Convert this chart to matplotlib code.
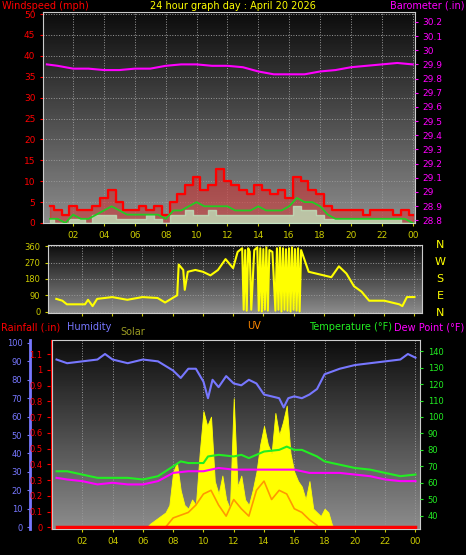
import matplotlib
matplotlib.use("Agg")
import matplotlib.pyplot as plt
import numpy as np

# ---- top panel: wind and barometer ----
wind_hours = [0.5, 1, 1.5, 2, 2.5, 3, 3.5, 4, 4.5, 5, 5.5, 6, 6.5, 7, 7.5, 8, 8.5, 9, 9.5, 10,
              10.5, 11, 11.5, 12, 12.5, 13, 13.5, 14, 14.5, 15, 15.5, 16, 16.5, 17, 17.5, 18,
              18.5, 19, 19.5, 20, 20.5, 21, 21.5, 22, 22.5, 23, 23.5, 24]
gust = [4, 3, 2, 4, 3, 3, 4, 6, 8, 5, 3, 3, 4, 3, 4, 2, 5, 7, 9, 11,
        8, 9, 13, 10, 9, 8, 7, 9, 8, 7, 8, 6, 11, 10, 8, 7,
        4, 3, 3, 3, 3, 2, 3, 3, 3, 2, 3, 2]
wind_avg = [1, 1, 0, 2, 1, 1, 2, 3, 4, 3, 2, 2, 2, 2, 2, 1, 3, 3, 4, 5,
            4, 4, 4, 4, 3, 3, 3, 4, 3, 3, 3, 4, 6, 5, 5, 4,
            2, 1, 1, 1, 1, 1, 1, 1, 1, 1, 1, 0]
wind_speed = [1, 0, 0, 1, 1, 0, 2, 2, 2, 1, 1, 1, 1, 2, 1, 0, 2, 2, 3, 2,
              2, 3, 2, 2, 2, 2, 2, 2, 2, 2, 2, 2, 4, 3, 3, 2,
              1, 1, 1, 1, 1, 1, 1, 1, 1, 1, 0, 0]
baro_hours = [0.3, 1, 2, 3, 4, 5, 6, 7, 8, 9, 10, 11, 12, 13, 14, 15, 16, 17, 18, 19, 20, 21, 22, 23, 24]
baro = [29.90, 29.89, 29.87, 29.87, 29.86, 29.86, 29.87, 29.87, 29.89, 29.90, 29.90, 29.89, 29.89,
        29.88, 29.85, 29.83, 29.83, 29.83, 29.85, 29.86, 29.88, 29.89, 29.90, 29.91, 29.90]

# ---- middle panel: wind direction ----
dir_hours = [0.3, 0.7, 1, 2, 2.2, 2.4, 2.7, 3, 4, 5, 6, 7, 7.5, 8, 8.3, 8.4, 8.7, 8.8, 9, 9.5,
             10, 10.5, 11, 11.5, 12, 12.3, 12.6, 12.7, 12.8, 12.9, 13.0, 13.1, 13.2, 13.4, 13.6,
             13.7, 13.8, 13.9, 14.0, 14.1, 14.2, 14.3, 14.4, 14.6, 14.8, 14.9, 15.0, 15.1, 15.2,
             15.3, 15.4, 15.5, 15.6, 15.7, 15.8, 15.9, 16.0, 16.1, 16.2, 16.3, 16.4, 16.5,
             17, 17.5, 18, 18.5, 19, 19.5, 20, 20.5, 21, 22, 22.5, 23, 23.2, 23.5, 24]
wind_dir = [70, 60, 40, 40, 40, 65, 30, 70, 80, 65, 80, 75, 50, 75, 90, 260, 230, 120, 220, 230,
            220, 200, 230, 290, 240, 330, 350, 10, 340, 5, 350, 330, 10, 340, 355,
            5, 350, 0, 345, 10, 355, 5, 340, 330, 5, 350, 10, 355, 0, 350,
            10, 345, 5, 350, 0, 355, 10, 345, 5, 350, 0, 340,
            220, 210, 200, 190, 250, 210, 140, 110, 60, 60, 50, 40, 30, 80, 80]

# ---- bottom panel ----
hum_hours = [0.3, 1, 2, 3, 3.5, 4, 5, 6, 7, 8, 8.5, 9, 9.5, 10, 10.3, 10.6, 11, 11.5, 12, 12.5,
             13, 13.5, 14, 15, 15.3, 15.6, 16, 16.5, 17, 17.5, 18, 19, 20, 21, 22, 23, 23.5, 24]
humidity = [91, 89, 90, 91, 94, 91, 89, 91, 90, 85, 81, 86, 86, 79, 70, 80, 76, 82, 78, 77,
            80, 78, 72, 70, 65, 70, 71, 70, 72, 75, 83, 86, 88, 89, 90, 91, 94, 92]
temp_hours = [0.3, 1, 2, 3, 4, 5, 6, 7, 8, 8.5, 9, 10, 10.3, 11, 12, 12.5, 13, 13.5, 14, 15,
              15.5, 16, 16.5, 17, 17.5, 18, 19, 20, 21, 22, 23, 24]
temperature = [67, 67, 65, 63, 63, 63, 62, 64, 70, 73, 72, 72, 76, 77, 76, 77, 75, 77, 79, 80,
               82, 80, 80, 78, 76, 73, 71, 69, 68, 66, 64, 65]
dew_hours = [0.3, 1, 2, 3, 4, 5, 6, 7, 8, 9, 10, 11, 12, 13, 14, 15, 16, 17, 18, 19, 20, 21, 22, 23, 24]
dew_point = [63, 62, 61, 59, 60, 59, 59, 61, 66, 67, 67, 69, 68, 68, 68, 68, 68, 66, 66, 66, 65, 64, 62, 61, 61]
solar_hours = [6.25, 6.5, 7, 7.5, 7.75, 8, 8.25, 8.5, 8.75, 9, 9.25, 9.5, 9.75, 10, 10.25, 10.5,
               10.75, 11, 11.25, 11.5, 11.75, 12, 12.25, 12.5, 12.75, 13, 13.25, 13.5, 13.75, 14,
               14.25, 14.5, 14.75, 15, 15.25, 15.5, 15.75, 16, 16.25, 16.5, 16.75, 17, 17.25,
               17.5, 17.75, 18, 18.25, 18.5, 18.75]
solar = [0, 2, 5, 8, 12, 30, 35, 20, 12, 10, 15, 12, 40, 63, 55, 60,
         25, 18, 28, 15, 10, 70, 22, 28, 15, 12, 20, 30, 45, 55,
         45, 40, 62, 50, 57, 66, 40, 30, 25, 22, 15, 25, 10,
         8, 6, 10, 8, 1, 0]
uv_hours = [7.5, 8, 9, 9.5, 10, 10.5, 11, 11.5, 12, 12.5, 13, 13.5, 14, 14.5, 15, 15.5, 16, 16.5, 17, 17.5]
uv = [0, 5, 8, 12, 18, 20, 12, 6, 15, 10, 6, 20, 25, 15, 20, 18, 10, 8, 4, 1]
rain_hours = [0.3, 24.0]
rainfall = [0.0, 0.0]

hour_ticks = [2, 4, 6, 8, 10, 12, 14, 16, 18, 20, 22, 24]
hour_labels = ["02", "04", "06", "08", "10", "12", "14", "16", "18", "20", "22", "00"]

W, H = 466, 555
fig = plt.figure(figsize=(W / 100, H / 100), dpi=100, facecolor="black")


def box(l, t, r, b):
    return [l / W, 1 - b / H, (r - l) / W, (b - t) / H]


def style(ax, xlim):
    grad = np.linspace(0.05, 0.55, 100).reshape(-1, 1)
    ax.imshow(grad, extent=[0, 1, 0, 1], transform=ax.transAxes, aspect="auto",
              cmap="gray", vmin=0, vmax=1, origin="upper", zorder=0)
    ax.set_xlim(*xlim)
    ax.set_xticks(hour_ticks)
    ax.set_xticklabels(hour_labels)
    ax.grid(True, color="#999999", linestyle=":", linewidth=0.7)
    for s in ax.spines.values():
        s.set_color("#cccccc")
    ax.tick_params(colors="#cccc00", labelsize=6.5, length=2)


# top
ax1 = fig.add_axes(box(43, 12, 415, 223))
style(ax1, (0.05, 24.15))
ax1.set_ylim(0, 50.5)
ax1.set_yticks(range(0, 51, 5))
ax1.tick_params(axis="y", colors="red", labelsize=6.5)
ax1.plot(wind_hours, gust, color="red", lw=1.6, drawstyle="steps-mid", zorder=3)
ax1.fill_between(wind_hours, gust, step="mid", color="red", alpha=0.35, zorder=2)
ax1.fill_between(wind_hours, wind_speed, step="mid", color="#c0e8c0", alpha=0.75, zorder=4)
ax1.plot(wind_hours, wind_avg, color="#22cc22", lw=1.3, zorder=5)
ax1b = ax1.twinx()
ax1b.set_ylim(28.78, 30.27)
baro_ticks = np.round(np.arange(28.8, 30.21, 0.1), 1)
ax1b.set_yticks(baro_ticks)
ax1b.set_yticklabels([f"{v:g}" for v in baro_ticks])
ax1b.tick_params(axis="y", colors="#ff00ff", labelsize=6.5, length=2)
for s in ax1b.spines.values():
    s.set_visible(False)
ax1b.plot(baro_hours, baro, color="#ff00ff", lw=1.5)

fig.text(2 / W, 1 - 6 / H, "Windspeed (mph)", color="red", fontsize=7, va="center")
fig.text(233 / W, 1 - 6 / H, "24 hour graph day : April 20 2026", color="yellow", fontsize=7,
         ha="center", va="center")
fig.text(464 / W, 1 - 6 / H, "Barometer (.in)", color="#ff00ff", fontsize=7, ha="right", va="center")

# middle
ax2 = fig.add_axes(box(48, 245, 422, 313))
style(ax2, (-0.25, 24.5))
ax2.set_ylim(-8, 368)
ax2.set_yticks([0, 90, 180, 270, 360])
ax2.tick_params(axis="y", colors="#cccc00", labelsize=6)
ax2.tick_params(axis="x", labelbottom=False)
ax2.plot(dir_hours, wind_dir, color="yellow", lw=1.5, zorder=3)
for y, lab in zip([245, 262, 279, 296, 313], ["N", "W", "S", "E", "N"]):
    fig.text(440 / W, 1 - y / H, lab, color="yellow", fontsize=8, ha="center", va="center")

# bottom
ax3 = fig.add_axes(box(52, 340, 420, 529))
style(ax3, (0.0, 24.3))
ax3.set_ylim(-1, 100 + 1.6)
ax3.set_yticks([])
ax3.fill_between(solar_hours, solar, color="yellow", lw=0.6, zorder=2)
ax3.plot(uv_hours, uv, color="#ff9900", lw=1.2, zorder=3)
ax3.plot(hum_hours, humidity, color="#7777ff", lw=1.5, zorder=4)

# humidity axis (left, blue)
axh = fig.add_axes(box(30, 340, 30.5, 529))
axh.set_ylim(-1, 101.6)
axh.set_yticks(range(0, 101, 10))
axh.set_xticks([])
axh.set_facecolor("none")
for k, s in axh.spines.items():
    s.set_visible(k == "right")
axh.spines["right"].set_color("#7777ff")
axh.spines["right"].set_linewidth(2)
axh.tick_params(axis="y", colors="#7777ff", labelsize=6, length=2)

# rainfall axis (left, red)
axr = fig.add_axes(box(50, 340, 50.5, 529))
axr.set_ylim(-0.01, 1.19)
rain_ticks = np.round(np.arange(0, 1.11, 0.1), 1)
axr.set_yticks(rain_ticks)
axr.set_yticklabels([f"{v:g}" for v in rain_ticks])
axr.set_xticks([])
axr.set_facecolor("none")
for k, s in axr.spines.items():
    s.set_visible(k == "right")
axr.spines["right"].set_color("red")
axr.tick_params(axis="y", colors="red", labelsize=6, length=2)

ax3r = ax3.twinx()
ax3r.set_ylim(31.9, 146.8)
ax3r.set_yticks(range(40, 141, 10))
ax3r.tick_params(axis="y", colors="#22ee22", labelsize=6, length=2)
for s in ax3r.spines.values():
    s.set_visible(False)
ax3r.plot(temp_hours, temperature, color="#22ee22", lw=1.5, zorder=5)
ax3r.plot(dew_hours, dew_point, color="#ff00ff", lw=1.5, zorder=5)
ax3rr = ax3.twinx()
ax3rr.set_ylim(-0.01, 1.19)
ax3rr.axis("off")
ax3rr.plot(rain_hours, rainfall, color="red", lw=2.5, zorder=6)

fig.text(1 / W, 1 - 327 / H, "Rainfall (.in)", color="red", fontsize=7, va="center")
fig.text(67 / W, 1 - 327 / H, "Humidity", color="#7777ff", fontsize=7, va="center")
fig.text(120 / W, 1 - 332 / H, "Solar", color="#999922", fontsize=7, va="center")
fig.text(254 / W, 1 - 326 / H, "UV", color="#ff8800", fontsize=7, ha="center", va="center")
fig.text(392 / W, 1 - 327 / H, "Temperature (°F)", color="#22ee22", fontsize=7, ha="right", va="center")
fig.text(464 / W, 1 - 327 / H, "Dew Point (°F)", color="#ff00ff", fontsize=7, ha="right", va="center")

fig.savefig("out.png", dpi=100, facecolor="black")
